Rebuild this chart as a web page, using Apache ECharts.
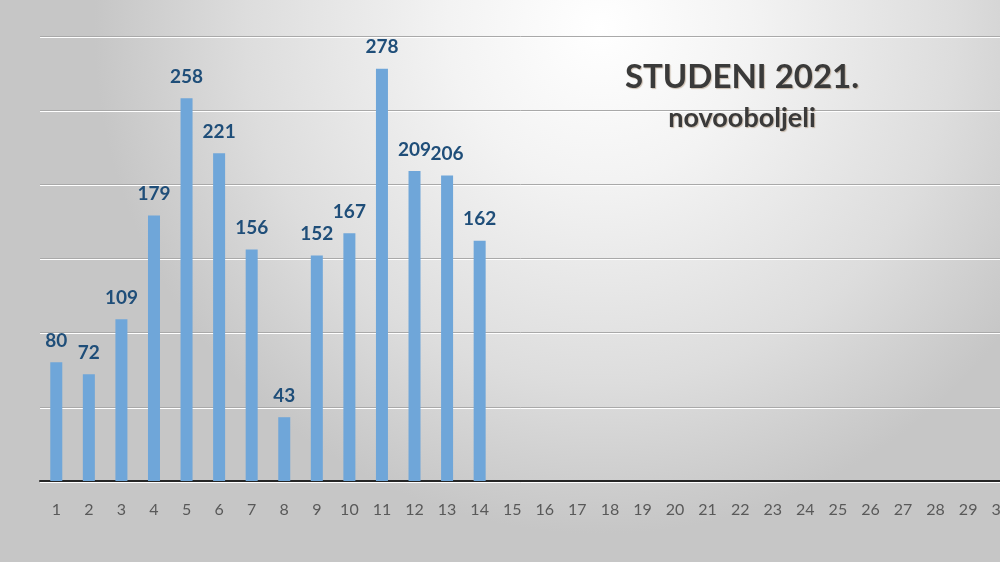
<!DOCTYPE html>
<html>
<head>
<meta charset="utf-8">
<script src="https://cdn.jsdelivr.net/npm/echarts@6/dist/echarts.min.js"></script>
<style>
  html, body { margin: 0; padding: 0; }
  #chart { width: 1000px; height: 562px; }
</style>
</head>
<body>
<div id="chart"></div>
<script>
// dani u mjesecu
const days = [];
for (let d = 1; d <= 30; d++) days.push(String(d));

// novooboljeli po danu (studeni 2021.)
const newCases = [80, 72, 109, 179, 258, 221, 156, 43, 152, 167, 278, 209, 206, 162,
  null, null, null, null, null, null, null, null, null, null, null, null, null, null, null, null];

const titleText = "STUDENI 2021.";
const subtitleText = "novooboljeli";

const chart = echarts.init(document.getElementById("chart"));

const option = {
  backgroundColor: new echarts.graphic.RadialGradient(0.6, 0.05, 0.9, [
    { offset: 0, color: "#ffffff" },
    { offset: 0.3, color: "#f3f3f3" },
    { offset: 0.7, color: "#dddddd" },
    { offset: 1, color: "#c6c6c6" },
  ]),
  animation: false,
  title: [
    {
      text: titleText,
      left: 737,
      top: 56,
      textAlign: "center",
      textStyle: {
        fontFamily: "Lato",
        fontWeight: "bold",
        fontSize: 33,
        color: "#3a3a3a",
        textShadowColor: "rgba(120,80,40,0.35)",
        textShadowOffsetX: 1,
        textShadowOffsetY: 1,
        textShadowBlur: 1,
      },
    },
    {
      text: subtitleText,
      left: 737,
      top: 100,
      textAlign: "center",
      textStyle: {
        fontFamily: "Lato",
        fontWeight: "bold",
        fontSize: 27,
        color: "#3a3a3a",
        textShadowColor: "rgba(120,80,40,0.35)",
        textShadowOffsetX: 1,
        textShadowOffsetY: 1,
        textShadowBlur: 1,
      },
    },
  ],
  grid: {
    left: 40,
    top: 36,
    right: -17,
    bottom: 81,
    outerBoundsMode: "none",
  },
  xAxis: {
    type: "category",
    data: days,
    axisLine: { lineStyle: { color: "#262626", width: 2 } },
    axisTick: { show: false },
    axisLabel: {
      interval: 0,
      margin: 21,
      fontFamily: "Lato",
      fontSize: 16,
      color: "#595959",
    },
  },
  yAxis: {
    type: "value",
    min: 0,
    max: 300,
    interval: 50,
    axisLabel: { show: false },
    axisLine: { show: false },
    axisTick: { show: false },
    splitLine: {
      lineStyle: {
        color: "#a9a9a9",
        width: 1,
        shadowColor: "#ffffff",
        shadowOffsetY: 1,
      },
    },
  },
  series: [
    {
      type: "bar",
      data: newCases,
      barWidth: 12,
      itemStyle: { color: "#6fa6d9" },
      label: {
        show: true,
        position: "top",
        distance: 12,
        fontFamily: "Lato",
        fontWeight: "bold",
        fontSize: 19,
        color: "#1f4e79",
      },
    },
  ],
};

chart.setOption(option);
</script>
</body>
</html>
